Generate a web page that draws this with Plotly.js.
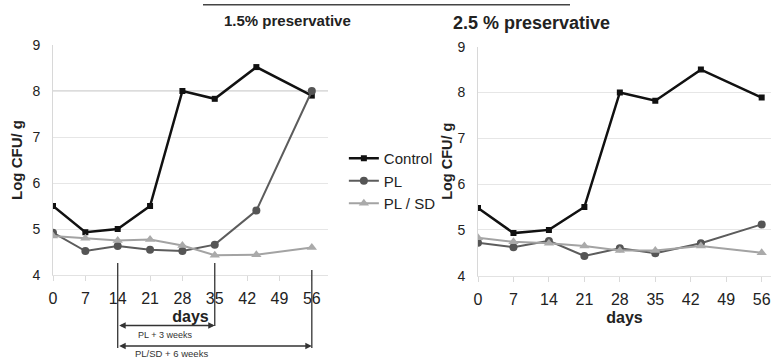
<!DOCTYPE html>
<html>
<head>
<meta charset="utf-8">
<script src="https://cdn.plot.ly/plotly-3.0.1.min.js"></script>
<style>
  html, body { margin: 0; padding: 0; background: #fff; }
  #chart { width: 771px; height: 358px; }
</style>
</head>
<body>
<div id="chart"></div>
<script>
// Sampling days
const days = [0, 7, 14, 21, 28, 35, 44, 56];
const dayTicks = [0, 7, 14, 21, 28, 35, 42, 49, 56];

// 1.5% preservative (log CFU/g)
const control15 = [5.5, 4.93, 5.0, 5.5, 8.0, 7.83, 8.52, 7.9];
const pl15      = [4.92, 4.52, 4.63, 4.55, 4.52, 4.66, 5.4, 8.0];
const plsd15    = [4.85, 4.8, 4.75, 4.77, 4.64, 4.43, 4.44, 4.6];

// 2.5% preservative (log CFU/g)
const control25 = [5.48, 4.93, 5.0, 5.5, 8.0, 7.82, 8.5, 7.89];
const pl25      = [4.72, 4.62, 4.76, 4.43, 4.6, 4.49, 4.71, 5.12];
const plsd25    = [4.83, 4.74, 4.71, 4.65, 4.55, 4.55, 4.65, 4.5];

const seriesNames = ['Control', 'PL', 'PL / SD'];
const panelTitles = ['1.5% preservative', '2.5 % preservative'];

const FONT = 'Liberation Sans, Arial, sans-serif';
const styles = [
  { line: { color: '#111', width: 2.5 }, marker: { symbol: 'square', size: 6, color: '#111' } },
  { line: { color: '#5c5c5c', width: 2 }, marker: { symbol: 'circle', size: 8, color: '#555' } },
  { line: { color: '#a3a3a3', width: 2 }, marker: { symbol: 'triangle-up', size: 9, color: '#aaa' } }
];

function panel(ys, xa, ya, legend) {
  return ys.map((y, i) => ({
    x: days, y: y, name: seriesNames[i], type: 'scatter', mode: 'lines+markers',
    xaxis: xa, yaxis: ya, showlegend: legend,
    line: styles[i].line, marker: styles[i].marker
  }));
}

const traces = [
  ...panel([control15, pl15, plsd15], 'x', 'y', true),
  ...panel([control25, pl25, plsd25], 'x2', 'y2', false)
];

function xAxis(domain, range, anchor) {
  return {
    domain: domain, range: range, anchor: anchor,
    tickvals: dayTicks, ticktext: dayTicks.map(String),
    showgrid: false, zeroline: false,
    showline: true, linecolor: '#e2e2e2', linewidth: 1,
    ticks: 'outside', ticklen: 5, tickcolor: '#dadada',
    ticklabelstandoff: 4,
    tickfont: { family: FONT, size: 16, color: '#222' },
    title: { text: '<b>days</b>', font: { family: FONT, size: 16, color: '#222' }, standoff: 4 }
  };
}
function yAxis(domain, anchor, fontSize, standoff) {
  return {
    domain: domain, range: [4, 9], anchor: anchor, dtick: 1,
    showgrid: true, gridcolor: '#e6e6e6', gridwidth: 1, zeroline: false,
    showline: true, linecolor: '#d8d8d8', linewidth: 1,
    ticks: '', ticklabelstandoff: 9,
    tickfont: { family: FONT, size: 14, color: '#222' },
    title: { text: '<b>Log CFU/ g</b>', font: { family: FONT, size: fontSize, color: '#222' }, standoff: standoff }
  };
}

const H = 358, W = 771;
const py = p => (H - p) / H;

const layout = {
  width: W, height: H,
  margin: { l: 0, r: 0, t: 0, b: 0 },
  paper_bgcolor: '#fff', plot_bgcolor: '#fff',
  font: { family: FONT, color: '#222' },
  xaxis: xAxis([53 / W, 328 / W], [0, 59.5], 'y'),
  yaxis: yAxis([py(275), py(45)], 'x', 15, 6),
  xaxis2: xAxis([478 / W, 1], [0, 57.84], 'y2'),
  yaxis2: yAxis([py(275.7), py(46.7)], 'x2', 14.5, 1),
  legend: {
    x: 0.446, y: py(142), xanchor: 'left', yanchor: 'top',
    bgcolor: 'rgba(0,0,0,0)', itemwidth: 30,
    font: { family: FONT, size: 15, color: '#222' }
  },
  annotations: [
    { text: '<b>' + panelTitles[0] + '</b>', xref: 'paper', yref: 'paper',
      x: 222 / W, y: py(20), yanchor: 'middle', showarrow: false,
      font: { family: FONT, size: 15, color: '#222' } },
    { text: '<b>' + panelTitles[1] + '</b>', xref: 'paper', yref: 'paper',
      x: 612 / W, y: py(23), yanchor: 'middle', showarrow: false,
      font: { family: FONT, size: 18, color: '#222' } },
    // storage-period arrows under the 1.5% panel
    { text: '', xref: 'x', yref: 'paper', x: 35, y: py(325.5), axref: 'x', ax: 14, ayref: 'pixel', ay: 0,
      showarrow: true, arrowside: 'end+start', arrowhead: 2, arrowsize: 1, arrowwidth: 1.3,
      arrowcolor: '#333', standoff: 0, startstandoff: 0 },
    { text: '', xref: 'x', yref: 'paper', x: 56, y: py(346), axref: 'x', ax: 14, ayref: 'pixel', ay: 0,
      showarrow: true, arrowside: 'end+start', arrowhead: 2, arrowsize: 1, arrowwidth: 1.3,
      arrowcolor: '#333', standoff: 0, startstandoff: 0 },
    { text: 'PL + 3 weeks', xref: 'x', yref: 'paper', x: 24.2, y: py(334.5), yanchor: 'middle',
      showarrow: false, font: { family: FONT, size: 9, color: '#333' } },
    { text: 'PL/SD + 6 weeks', xref: 'x', yref: 'paper', x: 25.6, y: py(353), yanchor: 'middle',
      showarrow: false, font: { family: FONT, size: 9.5, color: '#333' } }
  ],
  shapes: [
    { type: 'line', xref: 'paper', yref: 'paper', x0: 203 / W, x1: 570 / W, y0: py(4.7), y1: py(4.7),
      line: { color: '#444', width: 1.5 } },
    { type: 'line', xref: 'x', yref: 'y', x0: 0, x1: 59.5, y0: 8, y1: 8, layer: 'below',
      line: { color: '#b8b8b8', width: 1 } },
    { type: 'line', xref: 'x', yref: 'paper', x0: 14, x1: 14, y0: py(263), y1: py(348),
      line: { color: '#333', width: 1.3 } },
    { type: 'line', xref: 'x', yref: 'paper', x0: 35, x1: 35, y0: py(263), y1: py(326),
      line: { color: '#333', width: 1.3 } },
    { type: 'line', xref: 'x', yref: 'paper', x0: 56, x1: 56, y0: py(270), y1: py(348),
      line: { color: '#333', width: 1.3 } }
  ]
};

Plotly.newPlot('chart', traces, layout, { staticPlot: true, displayModeBar: false });
</script>
</body>
</html>
